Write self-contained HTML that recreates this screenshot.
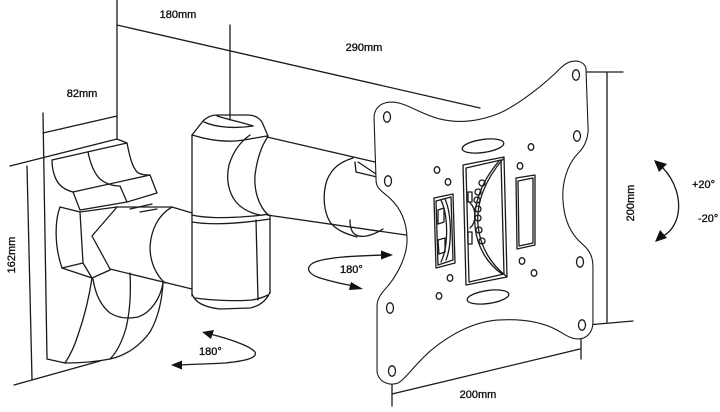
<!DOCTYPE html>
<html>
<head>
<meta charset="utf-8">
<style>
  html,body{margin:0;padding:0;background:#fff;}
  svg{display:block;}
  text{font-family:"Liberation Sans",Arial,sans-serif;fill:#111;}
</style>
</head>
<body>
<svg width="720" height="412" viewBox="0 0 720 412" xmlns="http://www.w3.org/2000/svg">
<rect width="720" height="412" fill="#fff"/>
<g fill="none" stroke="#1a1a1a" stroke-width="1.3" stroke-linejoin="round" stroke-linecap="round">

  <!-- ===== Dimension lines top ===== -->
  <line x1="117" y1="0" x2="117" y2="139"/>
  <line x1="117" y1="25" x2="480" y2="108"/>
  <line x1="230" y1="25" x2="230" y2="120"/>
  <line x1="43" y1="133" x2="117" y2="116"/>

  <!-- ===== Wall plate ===== -->
  <line x1="10" y1="166" x2="117" y2="139"/>
  <line x1="117" y1="139" x2="127" y2="143"/>
  <line x1="27" y1="166" x2="32" y2="379"/>
  <line x1="43" y1="113" x2="47" y2="359"/>
  <line x1="47" y1="359" x2="65" y2="363"/>
  <line x1="14" y1="385" x2="100" y2="361"/>

  <!-- ===== Upper bracket block ===== -->
  <path d="M52,160 L127,143 C130,158 132,166 137,172 C141,175 146,175 150,175 L157,193 L127,202 L80,210"/>
  <path d="M52,160 C52,170 55,180 60,185 C64,189 69,191 73,192 L80,210"/>
  <path d="M73,192 L150,175"/>
  <path d="M88,152 C90,162 93,172 100,179 C106,184 112,186 120,186 L127,202"/>

  <!-- ===== Knuckle ===== -->
  <path d="M60,207 L80,212 L117,207"/>
  <path d="M60,207 C55,220 54,245 62,268"/>
  <path d="M80,212 L83,263"/>
  <path d="M62,268 L83,263 L92,278"/>
  <path d="M62,268 L92,278 L110,270"/>
  <path d="M117,207 L92,236 L110,269"/>
  <path d="M130,209 L152,204"/>
  <path d="M140,212 L157,209"/>

  <!-- lower arm bracket->pillar -->
  <path d="M117,207 L172,207 L192,213"/>
  <path d="M110,269 L192,289"/>
  <path d="M172,207 C158,215 151,230 150,247 C150,262 156,275 165,283"/>

  <!-- ===== Lower bracket curves ===== -->
  <path d="M163,283 C162,300 158,318 150,332 C140,346 125,356 110,359 C95,362 80,363 65,363"/>
  <path d="M92,278 C89,298 84,318 78,335 C74,348 69,357 65,363"/>
  <path d="M130,273 C131,292 130,312 126,328 C122,342 117,352 110,359"/>
  <path d="M93,279 C95,292 100,305 110,313 C118,318 128,319 138,317 C150,313 160,300 163,283"/>

  <!-- ===== Pillar ===== -->
  <line x1="192" y1="135" x2="192" y2="296"/>
  <path d="M192,135 L203,121 C207,117 212,115 217,115 L248,115 C254,115 259,118 262,122 L268,136"/>
  <path d="M204,122 C215,127 233,129 253,126"/>
  <path d="M217,116 C230,120 244,123 253,126"/>
  <path d="M192,135 C205,139 220,142 235,141 C248,140 258,137 268,136"/>
  <path d="M192,215 C205,218 220,218 240,217 C252,216 260,216 268,214"/>
  <path d="M192,222 C210,225 237,224 270,219"/>
  <line x1="270" y1="215" x2="270" y2="293"/>
  <line x1="256" y1="220" x2="258" y2="300"/>
  <path d="M192,294 C195,302 203,307 220,309 L250,308 C260,306 267,300 270,292"/>
  <path d="M195,298 C215,301 240,301 252,300 C258,299 264,297 268,295"/>

  <!-- ===== Upper arm pillar->plate ===== -->
  <path d="M267,137 L375,162"/>
  <path d="M267,215 L406,235"/>
  <path d="M250,135 C240,142 233,152 229,165 C226,178 228,192 236,202 C242,209 250,213 260,215"/>
  <path d="M267,138 C261,147 257,160 255,175 C254,190 258,205 268,215"/>
  <path d="M353,158 C340,162 332,168 327,180 C322,195 324,212 330,222 C336,230 346,234 357,237"/>
  <!-- notches -->
  <path d="M355,162 L356,172 L377,177"/>
  <path d="M358,162 L376,174"/>
  <path d="M350,220 C350,228 352,233 356,235 C362,238 372,236 383,229"/>

  <!-- ===== 180° middle arrow ===== -->
  <path d="M384,255 C355,256 325,257 313,263 C305,268 308,274 320,278 C330,281 342,284 354,286"/>

  <!-- ===== 180° lower arrow ===== -->
  <path d="M210,334 C230,339 250,346 255,352 C258,358 245,361 225,363 C210,364 195,364 180,365"/>

  <!-- ===== Right rotation arc ===== -->
  <path d="M662,167 C675,180 682,200 677,218 C674,227 669,233 663,236"/>

  <!-- ===== Right dimension ===== -->
  <line x1="582" y1="72" x2="623" y2="72"/>
  <line x1="607" y1="73" x2="607" y2="322"/>
  <line x1="587" y1="325" x2="633" y2="321"/>

  <!-- ===== Bottom dimension ===== -->
  <line x1="392" y1="394" x2="580" y2="349"/>
  <line x1="392" y1="369" x2="392" y2="406"/>
  <line x1="581" y1="328" x2="581" y2="359"/>
</g>

<!-- ===== Plate (double outline) ===== -->
<path d="M375,118 C375,108 382,103 392,103 C405,103 420,115 440,120 C460,125 480,122 500,114 C520,105 545,85 562,68 C570,60 582,60 585,68 L587,125 C588,135 585,145 578,152 C565,165 561,185 562,200 C563,220 570,235 582,245 C590,252 592,258 592,268 L592,322 C592,332 586,338 578,338 C570,338 565,333 557,329 C540,320 520,318 500,319 C475,320 450,333 430,350 C415,363 405,378 398,382 C390,385 380,382 378,372 L378,306 C378,298 383,293 390,285 C400,272 408,255 408,240 C408,222 402,208 390,197 C382,190 377,188 377,180 Z" fill="#fff" stroke="#1a1a1a" stroke-width="3" stroke-linejoin="round"/>
<path d="M375,118 C375,108 382,103 392,103 C405,103 420,115 440,120 C460,125 480,122 500,114 C520,105 545,85 562,68 C570,60 582,60 585,68 L587,125 C588,135 585,145 578,152 C565,165 561,185 562,200 C563,220 570,235 582,245 C590,252 592,258 592,268 L592,322 C592,332 586,338 578,338 C570,338 565,333 557,329 C540,320 520,318 500,319 C475,320 450,333 430,350 C415,363 405,378 398,382 C390,385 380,382 378,372 L378,306 C378,298 383,293 390,285 C400,272 408,255 408,240 C408,222 402,208 390,197 C382,190 377,188 377,180 Z" fill="#fff" stroke="#fff" stroke-width="0.8" stroke-linejoin="round"/>

<g fill="none" stroke="#1a1a1a" stroke-width="1.3" stroke-linejoin="round" stroke-linecap="round">
  <!-- large holes -->
  <ellipse cx="387" cy="117" rx="3.5" ry="5.2"/>
  <ellipse cx="388" cy="181" rx="3.5" ry="5.2"/>
  <ellipse cx="576" cy="75" rx="3.5" ry="5.2"/>
  <ellipse cx="577" cy="136" rx="3.5" ry="5.2"/>
  <ellipse cx="580" cy="262" rx="3.5" ry="5.2"/>
  <ellipse cx="582" cy="325" rx="3.5" ry="5.2"/>
  <ellipse cx="390" cy="308" rx="3.5" ry="5.2"/>
  <ellipse cx="392" cy="371" rx="3.5" ry="5.2"/>
  <!-- small holes -->
  <ellipse cx="437" cy="170" rx="2.8" ry="3.3"/>
  <ellipse cx="448" cy="182" rx="2.8" ry="3.3"/>
  <ellipse cx="531" cy="147" rx="2.8" ry="3.3"/>
  <ellipse cx="520" cy="166" rx="2.8" ry="3.3"/>
  <ellipse cx="522" cy="261" rx="2.8" ry="3.3"/>
  <ellipse cx="534" cy="273" rx="2.8" ry="3.3"/>
  <ellipse cx="450" cy="278" rx="2.8" ry="3.3"/>
  <ellipse cx="439" cy="296" rx="2.8" ry="3.3"/>
  <!-- oval slots -->
  <ellipse cx="483" cy="146" rx="21" ry="6.5" transform="rotate(-8 483 146)"/>
  <ellipse cx="488" cy="297" rx="21" ry="6.5" transform="rotate(-8 488 297)"/>
  <!-- central slot -->
  <polygon points="463,165 504,157 507,277 466,285"/>
  <polygon points="466,168 501,160 504,274 469,282"/>
  <path d="M503,159 C485,180 476,203 478,225 C480,248 492,265 506,276"/>
  <path d="M499,161 C481,182 473,205 475,226 C477,248 488,264 502,274"/>
  <circle cx="482" cy="183" r="3"/>
  <circle cx="478" cy="192" r="3"/>
  <circle cx="477" cy="200" r="3"/>
  <circle cx="478" cy="209" r="3"/>
  <circle cx="478" cy="218" r="3"/>
  <circle cx="479" cy="230" r="3"/>
  <circle cx="482" cy="241" r="3"/>
  <path d="M470,203 C476,208 477,222 470,228"/>
  <rect x="468" y="192" width="4" height="10"/>
  <rect x="468" y="232" width="4" height="12"/>
  <!-- left slot -->
  <polygon points="434,198 453,194 455,263 436,268"/>
  <polygon points="436,201 451,197 453,260 438,265"/>
  <path d="M441,200 C448,215 449,245 441,262"/>
  <path d="M445,199 C452,215 452,245 446,260"/>
  <path d="M438,210 L444,208 L444,222 L438,224 Z"/>
  <path d="M438,240 L445,238 L445,252 L439,254 Z"/>
  <!-- right slot -->
  <polygon points="516,178 535,175 535,245 517,249"/>
  <polygon points="518,181 533,178 533,243 519,246"/>
</g>

<!-- arrowheads -->
<g fill="#111" stroke="none">
  <polygon points="393,255 381,250.5 381,259.5"/>
  <polygon points="363,289 351,282 349,290"/>
  <polygon points="202,332 214,330 211,339"/>
  <polygon points="171,365 182,360.5 182,369.5"/>
  <polygon points="654,160 667,164 659,172"/>
  <polygon points="655,242 660,230 667,238"/>
</g>

<!-- labels -->
<g font-size="11" stroke="#111" stroke-width="0.35">
  <text x="178" y="18" text-anchor="middle">180mm</text>
  <text x="364" y="51" text-anchor="middle">290mm</text>
  <text x="82" y="97" text-anchor="middle">82mm</text>
  <text x="0" y="0" text-anchor="middle" transform="translate(15,255) rotate(-90)">162mm</text>
  <text x="0" y="0" text-anchor="middle" transform="translate(634,203) rotate(-90)">200mm</text>
  <text x="478" y="398" text-anchor="middle">200mm</text>
  <text x="692" y="188">+20°</text>
  <text x="698" y="222">-20°</text>
  <text x="340" y="273">180°</text>
  <text x="199" y="355">180°</text>
</g>
</svg>
</body>
</html>
